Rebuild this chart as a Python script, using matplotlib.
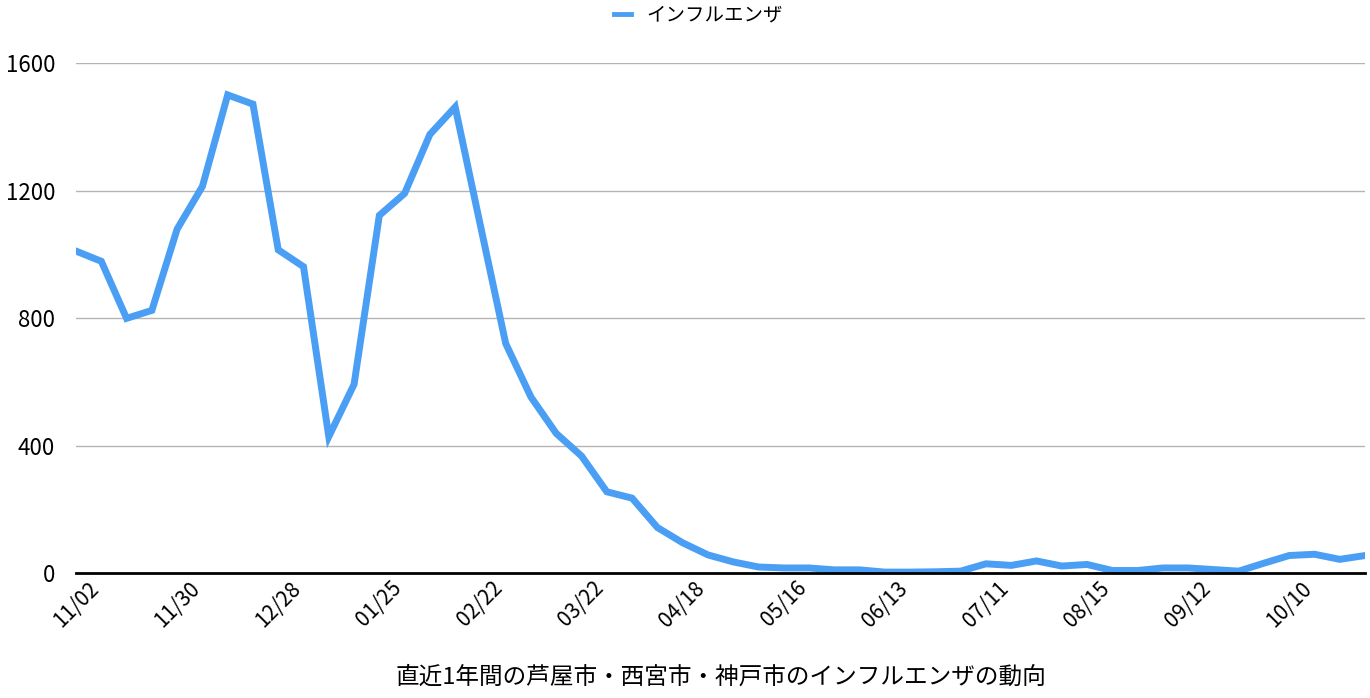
import matplotlib
matplotlib.use('Agg')
import matplotlib.pyplot as plt

plt.rcParams['font.family'] = ['Noto Sans CJK JP', 'DejaVu Sans']

# 週ごとの患者数
values = [1010, 978, 799, 824, 1079, 1213, 1500, 1471, 1014, 961,
          428, 592, 1122, 1191, 1376, 1462, 1090, 720, 552, 438,
          367, 255, 235, 143, 95, 57, 35, 19, 16, 16,
          10, 10, 3, 3, 4, 6, 29, 24, 38, 22,
          27, 8, 8, 16, 16, 11, 6, 31, 55, 59,
          43, 55]
tick_labels = ['11/02', '11/30', '12/28', '01/25', '02/22', '03/22', '04/18',
               '05/16', '06/13', '07/11', '08/15', '09/12', '10/10']
tick_step = 4
yticks = [0, 400, 800, 1200, 1600]
series_name = 'インフルエンザ'
title_text = '直近1年間の芦屋市・西宮市・神戸市のインフルエンザの動向'

fig = plt.figure(figsize=(13.7, 6.98), dpi=100)
ax = fig.add_axes([0.0555, 0.179, 0.9409, 0.7307])

x = list(range(len(values)))
ax.plot(x, values, color='#4a9ff5', linewidth=5, solid_joinstyle='miter',
        label=series_name)

ax.set_xlim(0, len(values) - 1)
ax.set_ylim(0, 1600)
ax.set_yticks(yticks)
ax.set_yticklabels([str(v) for v in yticks], fontsize=16)
ax.set_xticks(x[::tick_step])
ax.set_xticklabels(tick_labels, rotation=45, ha='center', fontsize=15)
ax.tick_params(axis='both', length=0)
ax.tick_params(axis='y', pad=15)
ax.tick_params(axis='x', pad=3)

ax.grid(axis='y', color='#b4b4b4', linewidth=1)
ax.set_axisbelow(True)
for s in ['top', 'right', 'left']:
    ax.spines[s].set_visible(False)
ax.spines['bottom'].set_color('black')
ax.spines['bottom'].set_linewidth(2)
ax.spines['bottom'].set_zorder(3)

ax.set_xlabel(title_text, fontsize=17, labelpad=25)

leg = fig.legend(loc='upper center', bbox_to_anchor=(0.51, 1.018), frameon=False,
                 fontsize=14, handlelength=0.85, handletextpad=0.8)
for line in leg.get_lines():
    line.set_linewidth(3.5)

fig.savefig('out.png', dpi=100)
